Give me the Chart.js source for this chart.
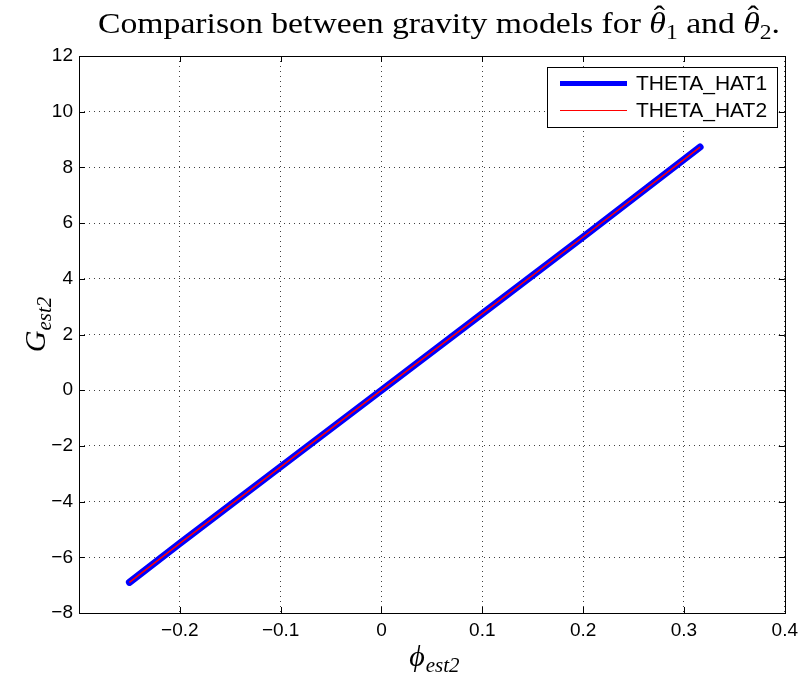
<!DOCTYPE html>
<html>
<head>
<meta charset="utf-8">
<script src="https://cdn.jsdelivr.net/npm/chart.js@4.4.0/dist/chart.umd.min.js"></script>
<style>
  html, body { margin: 0; padding: 0; background: #fff; }
  #wrap { width: 804px; height: 681px; position: relative; }
</style>
</head>
<body>
<div id="wrap"><canvas id="c" width="804" height="681"></canvas></div>
<script>
// ---- data ----
const phiEst2 = [-0.250, -0.200, -0.100, 0.000, 0.100, 0.200, 0.316];
const gEst2Theta1 = [-6.90, -5.50, -2.75, 0.00, 2.75, 5.50, 8.73];
const gEst2Theta2 = [-6.90, -5.50, -2.75, 0.00, 2.75, 5.50, 8.73];
const seriesNames = ['THETA_HAT1', 'THETA_HAT2'];
const xTicks = [-0.3, -0.2, -0.1, 0, 0.1, 0.2, 0.3, 0.4];
const yTicks = [-8, -6, -4, -2, 0, 2, 4, 6, 8, 10, 12];
const titleParts = ['Comparison between gravity models for ', '1', ' and ', '2', '.'];

const toPts = (xs, ys) => xs.map((x, i) => ({ x: x, y: ys[i] }));
const fmt = v => {
  let s = (Math.round(v * 10) / 10).toString();
  return s.replace('-', '\u2212');
};

const SERIF = '"Liberation Serif", "DejaVu Serif", serif';
const SANS = '"Liberation Sans", Arial, sans-serif';

const decor = {
  id: 'decor',
  afterDraw(chart) {
    const ctx = chart.ctx;
    const a = chart.chartArea;
    const xs = chart.scales.x, ys = chart.scales.y;
    ctx.save();
    // frame
    ctx.strokeStyle = '#000';
    ctx.lineWidth = 1;
    ctx.strokeRect(Math.round(a.left) + 0.5, Math.round(a.top) + 0.5, Math.round(a.right - a.left), Math.round(a.bottom - a.top));
    // inward ticks on all sides
    const tl = 6;
    ctx.beginPath();
    xTicks.forEach(v => {
      const px = Math.round(xs.getPixelForValue(v)) + 0.5;
      ctx.moveTo(px, a.bottom); ctx.lineTo(px, a.bottom - tl);
      ctx.moveTo(px, a.top); ctx.lineTo(px, a.top + tl);
    });
    yTicks.forEach(v => {
      const py = Math.round(ys.getPixelForValue(v)) + 0.5;
      ctx.moveTo(a.left, py); ctx.lineTo(a.left + tl, py);
      ctx.moveTo(a.right, py); ctx.lineTo(a.right - tl, py);
    });
    ctx.stroke();

    // legend
    const lx = 547, ly = 67, lw = 230, lh = 60;
    ctx.fillStyle = '#fff';
    ctx.fillRect(lx, ly, lw, lh);
    ctx.strokeStyle = '#000';
    ctx.lineWidth = 1;
    ctx.strokeRect(lx + 0.5, ly + 0.5, lw, lh);
    const ds = chart.data.datasets;
    const rows = [83.5, 110.5];
    ds.forEach((d, i) => {
      ctx.strokeStyle = d.borderColor;
      ctx.lineWidth = i === 0 ? 5 : 1.2;
      ctx.beginPath();
      ctx.moveTo(560, rows[i]); ctx.lineTo(627, rows[i]);
      ctx.stroke();
      ctx.fillStyle = '#000';
      ctx.font = '21px ' + SANS;
      ctx.textBaseline = 'middle';
      ctx.textAlign = 'left';
      ctx.fillText(d.label, 636, rows[i] + 1);
    });

    // title
    const fs = 30;
    const mainFont = fs + 'px ' + SERIF;
    const itFont = 'italic ' + fs + 'px ' + SERIF;
    const subFont = Math.round(fs * 0.7) + 'px ' + SERIF;
    const pieces = [
      { t: titleParts[0], f: mainFont, dy: 0 },
      { t: '\u03B8', f: itFont, dy: 0, hat: true },
      { t: titleParts[1], f: subFont, dy: 6 },
      { t: titleParts[2], f: mainFont, dy: 0 },
      { t: '\u03B8', f: itFont, dy: 0, hat: true },
      { t: titleParts[3], f: subFont, dy: 6 },
      { t: titleParts[4], f: mainFont, dy: 0 }
    ];
    let total = 0;
    pieces.forEach(p => { ctx.font = p.f; p.w = ctx.measureText(p.t).width; total += p.w; });
    const targetW = 682, startX = 98, base = 33;
    const sx = targetW / total;
    ctx.save();
    ctx.translate(startX, base);
    ctx.scale(sx, 1);
    ctx.fillStyle = '#000';
    ctx.textBaseline = 'alphabetic';
    ctx.textAlign = 'left';
    let cx = 0;
    pieces.forEach(p => {
      ctx.font = p.f;
      ctx.fillText(p.t, cx, p.dy);
      if (p.hat) {
        ctx.font = fs + 'px ' + SERIF;
        ctx.textAlign = 'center';
        ctx.fillText('\u02C6', cx + p.w * 0.6, -7);
        ctx.textAlign = 'left';
      }
      cx += p.w;
    });
    ctx.restore();

    // x axis title: phi_est2
    const cxx = (a.left + a.right) / 2 + 2;
    ctx.fillStyle = '#000';
    ctx.textBaseline = 'alphabetic';
    ctx.font = 'italic 30px ' + SERIF;
    const w1 = ctx.measureText('\u03D5').width;
    ctx.font = 'italic 21px ' + SERIF;
    const w2 = ctx.measureText('est2').width;
    let x0 = cxx - (w1 + w2) / 2;
    ctx.font = 'italic 30px ' + SERIF;
    ctx.fillText('\u03D5', x0, 666);
    ctx.font = 'italic 21px ' + SERIF;
    ctx.fillText('est2', x0 + w1 + 1, 672);

    // y axis title: G_est2 (rotated)
    ctx.save();
    ctx.translate(45, (a.top + a.bottom) / 2 - 10);
    ctx.rotate(-Math.PI / 2);
    ctx.font = 'italic 30px ' + SERIF;
    const g1 = ctx.measureText('G').width;
    ctx.font = 'italic 21px ' + SERIF;
    const g2 = ctx.measureText('est2').width;
    const gx = -(g1 + g2) / 2;
    ctx.font = 'italic 30px ' + SERIF;
    ctx.fillText('G', gx, 0);
    ctx.font = 'italic 21px ' + SERIF;
    ctx.fillText('est2', gx + g1, 6);
    ctx.restore();

    ctx.restore();
  }
};

new Chart(document.getElementById('c'), {
  type: 'scatter',
  plugins: [decor],
  data: {
    datasets: [
      { label: seriesNames[0], order: 2, data: toPts(phiEst2, gEst2Theta1), showLine: true, borderColor: '#0000ff', backgroundColor: '#0000ff', borderWidth: 7, pointRadius: 0, borderCapStyle: 'round', borderJoinStyle: 'round' },
      { label: seriesNames[1], order: 1, data: toPts(phiEst2, gEst2Theta2), showLine: true, borderColor: '#ff0000', backgroundColor: '#ff0000', borderWidth: 1.5, pointRadius: 0 }
    ]
  },
  options: {
    responsive: false,
    animation: false,
    devicePixelRatio: 1,
    layout: { padding: { left: 0, right: 17, top: 56, bottom: 0 } },
    plugins: { legend: { display: false }, tooltip: { enabled: false }, title: { display: false } },
    scales: {
      x: {
        type: 'linear', min: -0.3, max: 0.4,
        afterBuildTicks: s => { s.ticks = xTicks.map(v => ({ value: v })); },
        afterFit: s => { s.height = 68; },
        ticks: {
          callback: v => (Math.abs(v + 0.3) < 1e-9 ? '' : fmt(v)),
          font: { family: SANS, size: 19 }, color: '#000', padding: 6, maxRotation: 0, autoSkip: false
        },
        grid: { color: 'rgba(0,0,0,0.75)', lineWidth: 1, drawTicks: false },
        border: { display: false, dash: [1, 4] }
      },
      y: {
        type: 'linear', min: -8, max: 12,
        afterBuildTicks: s => { s.ticks = yTicks.map(v => ({ value: v })); },
        afterFit: s => { s.width = 79; },
        ticks: {
          callback: v => fmt(v),
          font: { family: SANS, size: 19 }, color: '#000', padding: 6, autoSkip: false
        },
        grid: { color: 'rgba(0,0,0,0.75)', lineWidth: 1, drawTicks: false },
        border: { display: false, dash: [1, 4] }
      }
    }
  }
});
</script>
</body>
</html>
